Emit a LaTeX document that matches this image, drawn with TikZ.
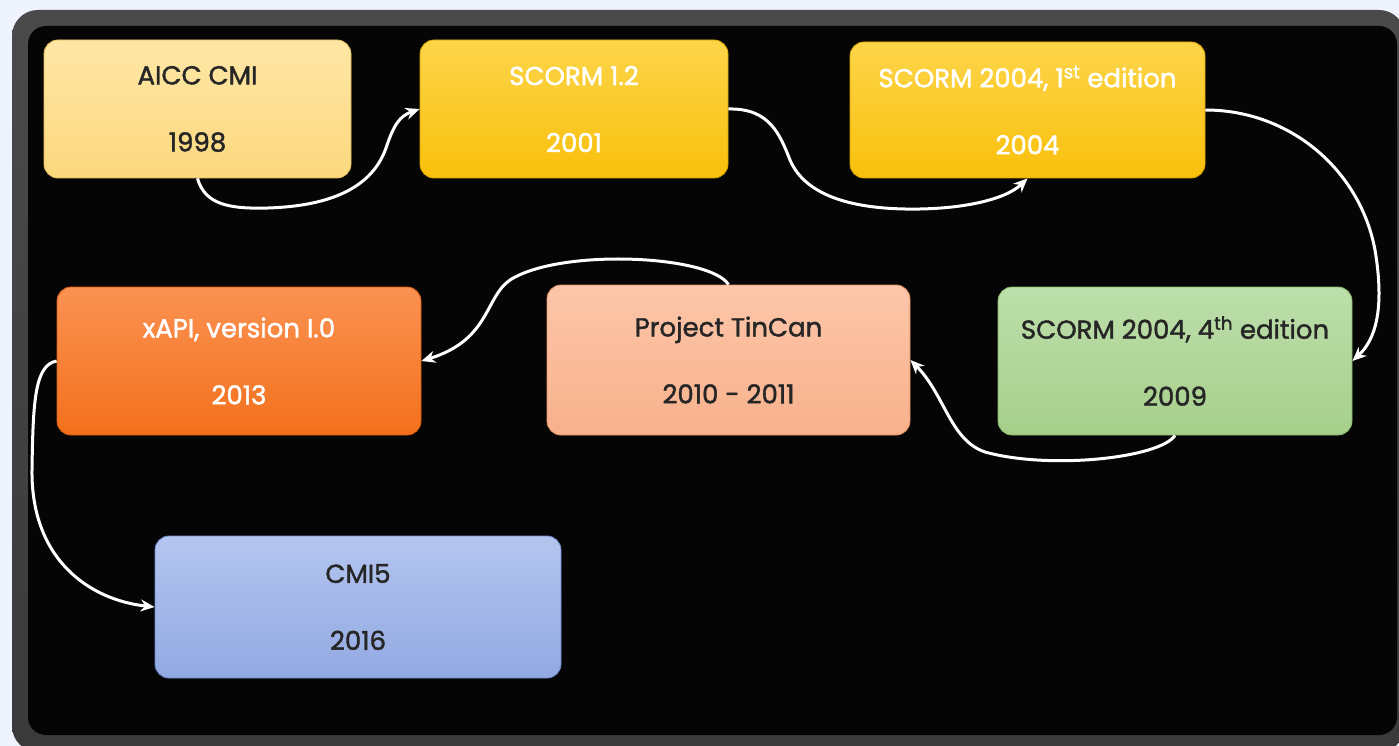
\documentclass[tikz,border=0pt]{standalone}
\usepackage{fontspec}
\setmainfont{Poppins}
\newfontfamily\stagefont{Poppins}[FakeBold=1.6]
\usetikzlibrary{arrows.meta}

\definecolor{pagebg}{HTML}{EEF3FD}
\definecolor{framegrey}{HTML}{3A3A3A}
\definecolor{framegreytop}{HTML}{4A4A4A}
\definecolor{panel}{HTML}{050505}
\definecolor{darktext}{HTML}{262626}

\definecolor{aiccTop}{HTML}{FEE7A6}
\definecolor{aiccBot}{HTML}{FCD87E}
\definecolor{aiccLine}{HTML}{E6BD5C}
\definecolor{goldTop}{HTML}{FDD54A}
\definecolor{goldBot}{HTML}{F9C00B}
\definecolor{goldLine}{HTML}{DDA600}
\definecolor{greenTop}{HTML}{BDDFAB}
\definecolor{greenBot}{HTML}{A6CF8B}
\definecolor{greenLine}{HTML}{84B768}
\definecolor{peachTop}{HTML}{FCC6AA}
\definecolor{peachBot}{HTML}{F8B18B}
\definecolor{peachLine}{HTML}{E69466}
\definecolor{orangeTop}{HTML}{FB9252}
\definecolor{orangeBot}{HTML}{F3701C}
\definecolor{orangeLine}{HTML}{D65E10}
\definecolor{blueTop}{HTML}{B4C5EF}
\definecolor{blueBot}{HTML}{92A9E2}
\definecolor{blueLine}{HTML}{6F88CC}

\tikzset{
  stagebox/.style={rounded corners=14pt, inner sep=0pt, align=center,
    font=\stagefont\fontsize{26}{67}\selectfont, line width=0.8pt},
  flow/.style={white, line width=3pt,
    -{Stealth[length=14pt,width=12pt]}},
}

\begin{document}
\begin{tikzpicture}[x=1pt,y=-1pt]
  % page and dark panel
  \useasboundingbox (0,0) rectangle (1399,746);
  \fill[pagebg] (0,0) rectangle (1399,746);
  \begin{scope}
    \clip (0,0) rectangle (1399,746);
    \shade[top color=framegreytop, bottom color=framegrey, rounded corners=26pt]
      (12,10) rectangle (1405,752);
    \fill[panel, rounded corners=18pt] (28,26) rectangle (1397,735);
  \end{scope}

  % stages
  \node[stagebox, minimum width=307pt, minimum height=138pt,
        top color=aiccTop, bottom color=aiccBot, draw=aiccLine, text=darktext]
    (aicc) at (197.5,109) {AICC CMI\\1998};
  \node[stagebox, minimum width=308pt, minimum height=138pt,
        top color=goldTop, bottom color=goldBot, draw=goldLine, text=white]
    (scorm12) at (574,109) {SCORM 1.2\\2001};
  \node[stagebox, minimum width=355pt, minimum height=136pt,
        top color=goldTop, bottom color=goldBot, draw=goldLine, text=white]
    (scormA) at (1027.5,110) {SCORM 2004, 1\textsuperscript{st} edition\\2004};
  \node[stagebox, minimum width=354pt, minimum height=148pt,
        top color=greenTop, bottom color=greenBot, draw=greenLine, text=darktext]
    (scormD) at (1175,361) {SCORM 2004, 4\textsuperscript{th} edition\\2009};
  \node[stagebox, minimum width=363pt, minimum height=150pt,
        top color=peachTop, bottom color=peachBot, draw=peachLine, text=darktext]
    (tincan) at (728.5,360) {Project TinCan\\2010 - 2011};
  \node[stagebox, minimum width=364pt, minimum height=148pt,
        top color=orangeTop, bottom color=orangeBot, draw=orangeLine, text=white]
    (xapi) at (239,361) {xAPI, version I.0\\2013};
  \node[stagebox, minimum width=406pt, minimum height=142pt,
        top color=blueTop, bottom color=blueBot, draw=blueLine, text=darktext]
    (cmi) at (358,607) {CMI5\\2016};

  % connectors
  \draw[flow] (aicc.south) .. controls (205,205) and (230,209) .. (268,208)
    .. controls (330,206) and (372,188) .. (386,148)
    .. controls (394,124) and (400,116) .. (scorm12.west);
  \draw[flow] (scorm12.east) .. controls (770,108) and (780,135) .. (790,160)
    .. controls (805,195) and (850,208) .. (905,209)
    .. controls (960,210) and (1005,200) .. (scormA.south);
  \draw[flow] (scormA.east) .. controls (1290,110) and (1360,170) .. (1375,250)
    .. controls (1385,310) and (1375,340) .. (scormD.east);
  \draw[flow] (scormD.south) .. controls (1160,458) and (1050,470) .. (985,452)
    .. controls (950,440) and (945,395) .. (tincan.east);
  \draw[flow] (tincan.north) .. controls (710,255) and (560,248) .. (510,280)
    .. controls (485,297) and (490,340) .. (xapi.east);
  \draw[flow] (xapi.west) .. controls (35,365) and (33,400) .. (32,470)
    .. controls (31,560) and (90,600) .. (cmi.west);
\end{tikzpicture}
\end{document}
